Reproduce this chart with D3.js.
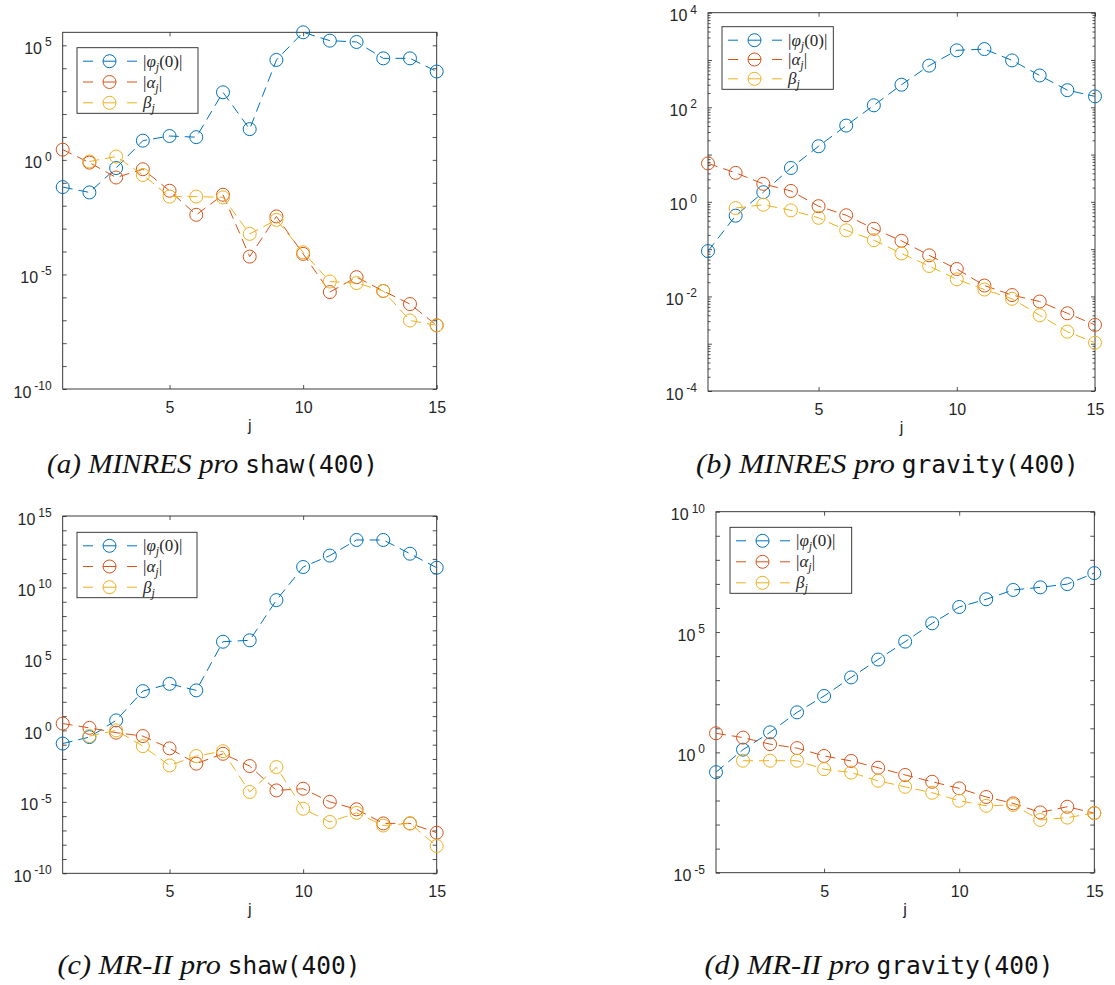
<!DOCTYPE html>
<html><head><meta charset="utf-8">
<script src="https://cdn.jsdelivr.net/npm/d3@7"></script>
<style>body{margin:0;background:#fff} svg{display:block}</style>
</head><body>
<svg id="chart" width="1115" height="985"></svg>
<script>
// ---------------- data ----------------
const jAll = d3.range(1, 16);      // j = 1..15
const jBeta = d3.range(2, 16);     // beta starts at j = 2
const xTickValues = [5, 10, 15];

// (a) MINRES, shaw(400)
const minresShawPhi   = [6.5e-2, 3.8e-2, 0.44, 6.9, 11, 9.8, 890, 22, 2.3e4, 3.7e5, 1.6e5, 1.4e5, 2.7e4, 2.7e4, 7.2e3];
const minresShawAlpha = [2.8, 0.76, 0.17, 0.39, 4.5e-2, 4.0e-3, 3.0e-2, 6.0e-5, 3.4e-3, 7.9e-5, 1.7e-6, 7.6e-6, 1.9e-6, 5.1e-7, 6.0e-8];
const minresShawBeta  = [0.85, 1.4, 0.22, 2.5e-2, 2.5e-2, 2.3e-2, 5.9e-4, 2.4e-3, 9.3e-5, 4.9e-6, 4.2e-6, 1.9e-6, 9.8e-8, 6.0e-8];

// (b) MINRES, gravity(400)
const minresGravPhi   = [9.1e-2, 0.51, 1.6, 5.2, 15, 41, 110, 300, 760, 1600, 1700, 980, 470, 230, 170];
const minresGravAlpha = [6.5, 4.1, 2.4, 1.7, 0.81, 0.52, 0.27, 0.15, 7.4e-2, 3.8e-2, 1.7e-2, 1.07e-2, 7.8e-3, 4.4e-3, 2.5e-3];
const minresGravBeta  = [0.74, 0.87, 0.66, 0.46, 0.25, 0.155, 8.1e-2, 4.4e-2, 2.3e-2, 1.4e-2, 8.9e-3, 4.0e-3, 1.8e-3, 1.05e-3];

// (c) MR-II, shaw(400)
const mr2ShawPhi   = [0.12, 0.34, 5.0, 560, 1800, 630, 1.6e6, 2.0e6, 1.3e9, 2.7e11, 1.7e12, 2.1e13, 2.1e13, 2.3e12, 2.4e11];
const mr2ShawAlpha = [3.0, 1.5, 0.69, 0.40, 5.5e-2, 4.7e-3, 2.3e-2, 3.2e-3, 6.3e-5, 8.3e-5, 1.0e-5, 3.0e-6, 3.1e-7, 3.1e-7, 6.9e-8];
const mr2ShawBeta  = [0.40, 1.0, 7.9e-2, 3.5e-3, 1.6e-2, 3.5e-2, 4.9e-5, 2.7e-3, 3.3e-6, 3.9e-7, 1.7e-6, 2.2e-7, 3.1e-7, 8.1e-9];

// (d) MR-II, gravity(400)
const mr2GravPhi   = [0.15, 1.3, 6.8, 46, 220, 1300, 7200, 4.0e4, 2.3e5, 1.1e6, 2.3e6, 5.6e6, 7.2e6, 9.8e6, 2.8e7];
const mr2GravAlpha = [6.2, 4.1, 2.2, 1.5, 0.71, 0.44, 0.23, 0.115, 6.0e-2, 3.2e-2, 1.4e-2, 7.6e-3, 3.2e-3, 5.5e-3, 3.0e-3];
const mr2GravBeta  = [0.45, 0.45, 0.45, 0.20, 0.145, 6.6e-2, 3.7e-2, 2.1e-2, 9.8e-3, 6.0e-3, 6.5e-3, 1.55e-3, 1.95e-3, 3.0e-3];

const captionLetters = ["(a)", "(b)", "(c)", "(d)"];
const captionMethods = ["MINRES", "MINRES", "MR-II", "MR-II"];
const captionProblems = ["shaw(400)", "gravity(400)", "shaw(400)", "gravity(400)"];

// ---------------- styles ----------------
const colors = ["#0072BD", "#D95319", "#EDB120"];
const axisColor = "#262626";

const panels = [
  { phi: minresShawPhi, alpha: minresShawAlpha, beta: minresShawBeta,
    left: 62.7, right: 436.7, top: 32.3, bottom: 389, yMinExp: -10, yMaxExp: null,
    labelExps: [-10, -5, 0, 5], minor: false,
    leg: { x: 77, y: 47.7, w: 121, h: 65.6 }, cap: { x: 47, x2: 378, y: 473 } },
  { phi: minresGravPhi, alpha: minresGravAlpha, beta: minresGravBeta,
    left: 708, right: 1095, top: 12.7, bottom: 391, yMinExp: -4, yMaxExp: 4,
    labelExps: [-4, -2, 0, 2, 4], minor: true,
    leg: { x: 722, y: 26.7, w: 111.3, h: 62.6 }, cap: { x: 685, x2: 1090, y: 473 } },
  { phi: mr2ShawPhi, alpha: mr2ShawAlpha, beta: mr2ShawBeta,
    left: 62.7, right: 436.7, top: 516, bottom: 873.3, yMinExp: -10, yMaxExp: 15,
    labelExps: [-10, -5, 0, 5, 10, 15], minor: false,
    leg: { x: 77, y: 532.3, w: 120, h: 65.4 }, cap: { x: 38, x2: 380, y: 974 } },
  { phi: mr2GravPhi, alpha: mr2GravAlpha, beta: mr2GravBeta,
    left: 716, right: 1094.3, top: 511.7, bottom: 872.7, yMinExp: -5, yMaxExp: 10,
    labelExps: [-5, 0, 5, 10], minor: false,
    leg: { x: 730, y: 527.3, w: 121.7, h: 66 }, cap: { x: 668, x2: 1090, y: 974 } }
];

const svg = d3.select("#chart");

panels.forEach((p, pi) => {
  const g = svg.append("g");
  const allVals = p.phi.concat(p.alpha, p.beta);
  const yMax = p.yMaxExp === null ? d3.max(allVals) : Math.pow(10, p.yMaxExp);
  const x = d3.scaleLinear().domain([1, 15]).range([p.left, p.right]);
  const y = d3.scaleLog().domain([Math.pow(10, p.yMinExp), yMax]).range([p.bottom, p.top]);

  const maxExp = Math.floor(Math.log10(yMax) + 1e-9);
  const decades = d3.range(p.yMinExp, maxExp + 1).map(e => Math.pow(10, e));
  const minors = [];
  if (p.minor) {
    for (let e = p.yMinExp; e < maxExp; e++) for (let k = 2; k <= 9; k++) minors.push(k * Math.pow(10, e));
  }

  const styleAxis = sel => {
    sel.select(".domain").remove();
    sel.selectAll("line").attr("stroke", axisColor).attr("stroke-width", 0.8);
  };

  g.append("g").attr("transform", `translate(0,${p.bottom})`)
    .call(d3.axisBottom(x).tickValues(xTickValues).tickSize(-4).tickPadding(12.5).tickFormat(d3.format("d")))
    .call(styleAxis)
    .call(s => s.selectAll("text").attr("fill", axisColor).style("font", "16px 'Liberation Sans', Arial, sans-serif"));
  g.append("g").attr("transform", `translate(0,${p.top})`)
    .call(d3.axisTop(x).tickValues(xTickValues).tickSize(-4).tickFormat(""))
    .call(styleAxis);

  const yl = g.append("g").attr("transform", `translate(${p.left},0)`)
    .call(d3.axisLeft(y).tickValues(decades).tickSize(-4).tickFormat(""))
    .call(styleAxis);
  g.append("g").attr("transform", `translate(${p.right},0)`)
    .call(d3.axisRight(y).tickValues(decades).tickSize(-4).tickFormat(""))
    .call(styleAxis);
  if (p.minor) {
    g.append("g").attr("transform", `translate(${p.left},0)`)
      .call(d3.axisLeft(y).tickValues(minors).tickSize(-2.5).tickFormat("")).call(styleAxis);
    g.append("g").attr("transform", `translate(${p.right},0)`)
      .call(d3.axisRight(y).tickValues(minors).tickSize(-2.5).tickFormat("")).call(styleAxis);
  }
  yl.selectAll(".tick").each(function (d) {
    const e = Math.round(Math.log10(d));
    if (!p.labelExps.includes(e)) return;
    const t = d3.select(this).append("text")
      .attr("x", -11).attr("y", 8).attr("text-anchor", "end").attr("fill", axisColor)
      .style("font-family", "'Liberation Sans', Arial, sans-serif");
    t.append("tspan").style("font-size", "16px").text("10");
    t.append("tspan").style("font-size", "12px").attr("dx", 3).attr("dy", -7.5).text(String(e));
  });

  g.append("rect").attr("x", p.left).attr("y", p.top)
    .attr("width", p.right - p.left).attr("height", p.bottom - p.top)
    .attr("fill", "none").attr("stroke", axisColor).attr("stroke-width", 0.9);

  g.append("text").attr("x", (p.left + p.right) / 2).attr("y", p.bottom + 42)
    .attr("text-anchor", "middle").attr("fill", axisColor)
    .style("font", "16px 'Liberation Sans', Arial, sans-serif").text("j");

  const series = [
    { xs: jAll, ys: p.phi, c: colors[0] },
    { xs: jAll, ys: p.alpha, c: colors[1] },
    { xs: jBeta, ys: p.beta, c: colors[2] }
  ];
  const line = d3.line().x(d => x(d[0])).y(d => y(d[1]));
  series.forEach(s => {
    const pts = s.xs.map((xv, i) => [xv, s.ys[i]]);
    g.append("path").datum(pts).attr("d", line)
      .attr("fill", "none").attr("stroke", s.c).attr("stroke-width", 1)
      .attr("stroke-dasharray", "10,6");
    g.selectAll(null).data(pts).enter().append("circle")
      .attr("cx", d => x(d[0])).attr("cy", d => y(d[1])).attr("r", 6.5)
      .attr("fill", "none").attr("stroke", s.c).attr("stroke-width", 1);
  });

  // legend
  const L = p.leg;
  g.append("rect").attr("x", L.x).attr("y", L.y).attr("width", L.w).attr("height", L.h)
    .attr("fill", "#fff").attr("stroke", axisColor).attr("stroke-width", 0.9);
  const rowStep = (L.h - 24) / 2;
  series.forEach((s, i) => {
    const ry = L.y + 13 + i * rowStep + 0.5;
    [[6, 16], [26, 39], [50, 60]].forEach(seg => {
      g.append("line").attr("x1", L.x + seg[0]).attr("x2", L.x + seg[1]).attr("y1", ry).attr("y2", ry)
        .attr("stroke", s.c).attr("stroke-width", 1);
    });
    g.append("circle").attr("cx", L.x + 32.5).attr("cy", ry).attr("r", 6.5)
      .attr("fill", "none").attr("stroke", s.c).attr("stroke-width", 1);
    const t = g.append("text").attr("x", L.x + 66).attr("y", ry + 5.5).attr("fill", axisColor)
      .style("font-family", "'Liberation Serif', 'Times New Roman', serif").style("font-size", "17px");
    if (i === 0) {
      t.append("tspan").text("|");
      t.append("tspan").style("font-style", "italic").text("φ");
      t.append("tspan").style("font-style", "italic").style("font-size", "12px").attr("dy", 4).text("j");
      t.append("tspan").attr("dy", -4).text("(0)|");
    } else if (i === 1) {
      t.append("tspan").text("|");
      t.append("tspan").style("font-style", "italic").text("α");
      t.append("tspan").style("font-style", "italic").style("font-size", "12px").attr("dy", 4).text("j");
      t.append("tspan").attr("dy", -4).text("|");
    } else {
      t.append("tspan").style("font-style", "italic").text("β");
      t.append("tspan").style("font-style", "italic").style("font-size", "12px").attr("dy", 4).text("j");
    }
  });

  // caption: italic serif part + monospace part, centred on the measured extent
  const gap = 7;
  const mono = svg.append("text").attr("y", p.cap.y).attr("fill", "#111")
    .style("font-family", "'DejaVu Sans Mono', monospace").style("font-size", "24.5px")
    .text(captionProblems[pi]);
  const monoW = mono.node().getComputedTextLength();
  const ital = svg.append("text").attr("y", p.cap.y).attr("fill", "#111")
    .style("font-family", "'Liberation Serif', serif").style("font-style", "italic").style("font-size", "27px")
    .text(captionLetters[pi] + " " + captionMethods[pi] + " pro");
  const natW = ital.node().getComputedTextLength();
  const wantW = p.cap.x2 - monoW - p.cap.x - gap;
  const italW = Math.max(natW, Math.min(wantW, natW * 1.12));
  ital.attr("textLength", italW).attr("lengthAdjust", "spacingAndGlyphs");
  const total = italW + gap + monoW;
  const x0 = (p.cap.x + p.cap.x2) / 2 - total / 2;
  ital.attr("x", x0);
  mono.attr("x", x0 + italW + gap);
});
</script>
</body></html>
